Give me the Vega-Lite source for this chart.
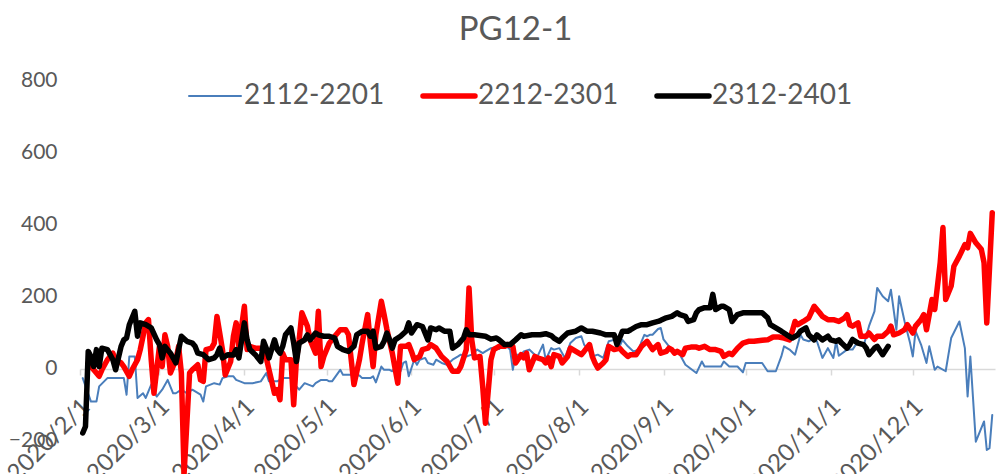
{
"$schema":"https://vega.github.io/schema/vega-lite/v6.json",
"width":915,"height":397,
"autosize":{"type":"none"},
"padding":{"left":80,"top":80,"right":2,"bottom":0},
"background":"white",
"config":{"view":{"stroke":null},"font":"Lato"},
"title":{"text":"PG12-1","fontSize":33,"font":"Lato","fontWeight":"normal","color":"#595959","anchor":"middle","frame":"group","offset":22,"dx":-22},
"data":{"values":[
{"s":"2112-2201","d":"2020-02-02","v":-26},{"s":"2112-2201","d":"2020-02-05","v":-91},{"s":"2112-2201","d":"2020-02-07","v":-91},{"s":"2112-2201","d":"2020-02-08","v":-49},{"s":"2112-2201","d":"2020-02-11","v":-26},{"s":"2112-2201","d":"2020-02-17","v":-26},{"s":"2112-2201","d":"2020-02-18","v":-72},{"s":"2112-2201","d":"2020-02-19","v":34},{"s":"2112-2201","d":"2020-02-21","v":34},{"s":"2112-2201","d":"2020-02-22","v":-81},{"s":"2112-2201","d":"2020-02-24","v":-68},{"s":"2112-2201","d":"2020-02-25","v":-81},{"s":"2112-2201","d":"2020-02-27","v":-44},{"s":"2112-2201","d":"2020-02-29","v":-77},
{"s":"2112-2201","d":"2020-03-02","v":-58},{"s":"2112-2201","d":"2020-03-04","v":-31},{"s":"2112-2201","d":"2020-03-06","v":-68},{"s":"2112-2201","d":"2020-03-07","v":-68},{"s":"2112-2201","d":"2020-03-09","v":-58},{"s":"2112-2201","d":"2020-03-11","v":-68},{"s":"2112-2201","d":"2020-03-13","v":-58},{"s":"2112-2201","d":"2020-03-16","v":-72},{"s":"2112-2201","d":"2020-03-17","v":-91},{"s":"2112-2201","d":"2020-03-18","v":-49},{"s":"2112-2201","d":"2020-03-21","v":-40},{"s":"2112-2201","d":"2020-03-23","v":-44},{"s":"2112-2201","d":"2020-03-24","v":-26},{"s":"2112-2201","d":"2020-03-26","v":-21},{"s":"2112-2201","d":"2020-03-28","v":-21},{"s":"2112-2201","d":"2020-03-29","v":-31},
{"s":"2112-2201","d":"2020-04-01","v":-40},{"s":"2112-2201","d":"2020-04-04","v":-40},{"s":"2112-2201","d":"2020-04-07","v":-35},{"s":"2112-2201","d":"2020-04-09","v":-12},{"s":"2112-2201","d":"2020-04-10","v":-35},{"s":"2112-2201","d":"2020-04-13","v":-35},{"s":"2112-2201","d":"2020-04-15","v":-26},{"s":"2112-2201","d":"2020-04-18","v":-26},{"s":"2112-2201","d":"2020-04-19","v":-40},{"s":"2112-2201","d":"2020-04-21","v":-58},{"s":"2112-2201","d":"2020-04-23","v":-40},{"s":"2112-2201","d":"2020-04-26","v":-49},{"s":"2112-2201","d":"2020-04-27","v":-40},{"s":"2112-2201","d":"2020-04-29","v":-31},
{"s":"2112-2201","d":"2020-05-01","v":-31},{"s":"2112-2201","d":"2020-05-02","v":-35},{"s":"2112-2201","d":"2020-05-03","v":-35},{"s":"2112-2201","d":"2020-05-06","v":-3},{"s":"2112-2201","d":"2020-05-07","v":-17},{"s":"2112-2201","d":"2020-05-10","v":-17},{"s":"2112-2201","d":"2020-05-13","v":-19},{"s":"2112-2201","d":"2020-05-14","v":-26},{"s":"2112-2201","d":"2020-05-17","v":-26},{"s":"2112-2201","d":"2020-05-18","v":-21},{"s":"2112-2201","d":"2020-05-19","v":-38},{"s":"2112-2201","d":"2020-05-21","v":6},{"s":"2112-2201","d":"2020-05-22","v":-3},{"s":"2112-2201","d":"2020-05-24","v":-3},{"s":"2112-2201","d":"2020-05-25","v":-7},{"s":"2112-2201","d":"2020-05-27","v":16},{"s":"2112-2201","d":"2020-05-28","v":-7},{"s":"2112-2201","d":"2020-05-29","v":16},{"s":"2112-2201","d":"2020-05-30","v":20},{"s":"2112-2201","d":"2020-05-31","v":-21},
{"s":"2112-2201","d":"2020-06-02","v":25},{"s":"2112-2201","d":"2020-06-03","v":11},{"s":"2112-2201","d":"2020-06-04","v":25},{"s":"2112-2201","d":"2020-06-06","v":30},{"s":"2112-2201","d":"2020-06-07","v":16},{"s":"2112-2201","d":"2020-06-09","v":11},{"s":"2112-2201","d":"2020-06-10","v":25},{"s":"2112-2201","d":"2020-06-12","v":16},{"s":"2112-2201","d":"2020-06-14","v":11},{"s":"2112-2201","d":"2020-06-16","v":25},{"s":"2112-2201","d":"2020-06-18","v":34},{"s":"2112-2201","d":"2020-06-19","v":39},{"s":"2112-2201","d":"2020-06-21","v":34},{"s":"2112-2201","d":"2020-06-23","v":39},{"s":"2112-2201","d":"2020-06-25","v":53},{"s":"2112-2201","d":"2020-06-27","v":43},{"s":"2112-2201","d":"2020-06-28","v":48},{"s":"2112-2201","d":"2020-06-30","v":57},
{"s":"2112-2201","d":"2020-07-02","v":60},{"s":"2112-2201","d":"2020-07-03","v":55},{"s":"2112-2201","d":"2020-07-05","v":67},{"s":"2112-2201","d":"2020-07-07","v":53},{"s":"2112-2201","d":"2020-07-08","v":-3},{"s":"2112-2201","d":"2020-07-09","v":39},{"s":"2112-2201","d":"2020-07-11","v":39},{"s":"2112-2201","d":"2020-07-12","v":48},{"s":"2112-2201","d":"2020-07-14","v":53},{"s":"2112-2201","d":"2020-07-16","v":39},{"s":"2112-2201","d":"2020-07-17","v":34},{"s":"2112-2201","d":"2020-07-19","v":67},{"s":"2112-2201","d":"2020-07-20","v":25},{"s":"2112-2201","d":"2020-07-22","v":57},{"s":"2112-2201","d":"2020-07-23","v":53},{"s":"2112-2201","d":"2020-07-25","v":57},{"s":"2112-2201","d":"2020-07-27","v":30},{"s":"2112-2201","d":"2020-07-29","v":71},{"s":"2112-2201","d":"2020-07-31","v":85},
{"s":"2112-2201","d":"2020-08-02","v":90},{"s":"2112-2201","d":"2020-08-03","v":67},{"s":"2112-2201","d":"2020-08-05","v":48},{"s":"2112-2201","d":"2020-08-06","v":34},{"s":"2112-2201","d":"2020-08-08","v":39},{"s":"2112-2201","d":"2020-08-10","v":30},{"s":"2112-2201","d":"2020-08-12","v":76},{"s":"2112-2201","d":"2020-08-14","v":80},{"s":"2112-2201","d":"2020-08-16","v":62},{"s":"2112-2201","d":"2020-08-17","v":80},{"s":"2112-2201","d":"2020-08-19","v":62},{"s":"2112-2201","d":"2020-08-21","v":48},{"s":"2112-2201","d":"2020-08-23","v":53},{"s":"2112-2201","d":"2020-08-24","v":76},{"s":"2112-2201","d":"2020-08-25","v":94},{"s":"2112-2201","d":"2020-08-26","v":90},{"s":"2112-2201","d":"2020-08-27","v":94},{"s":"2112-2201","d":"2020-08-28","v":94},{"s":"2112-2201","d":"2020-08-30","v":110},{"s":"2112-2201","d":"2020-08-31","v":113},
{"s":"2112-2201","d":"2020-09-01","v":81},{"s":"2112-2201","d":"2020-09-03","v":62},{"s":"2112-2201","d":"2020-09-07","v":39},{"s":"2112-2201","d":"2020-09-09","v":11},{"s":"2112-2201","d":"2020-09-13","v":-12},{"s":"2112-2201","d":"2020-09-15","v":20},{"s":"2112-2201","d":"2020-09-16","v":6},{"s":"2112-2201","d":"2020-09-22","v":6},{"s":"2112-2201","d":"2020-09-23","v":20},{"s":"2112-2201","d":"2020-09-25","v":6},{"s":"2112-2201","d":"2020-09-28","v":6},{"s":"2112-2201","d":"2020-09-30","v":-10},
{"s":"2112-2201","d":"2020-10-01","v":16},{"s":"2112-2201","d":"2020-10-07","v":16},{"s":"2112-2201","d":"2020-10-09","v":-7},{"s":"2112-2201","d":"2020-10-12","v":-7},{"s":"2112-2201","d":"2020-10-14","v":34},{"s":"2112-2201","d":"2020-10-15","v":62},{"s":"2112-2201","d":"2020-10-17","v":53},{"s":"2112-2201","d":"2020-10-19","v":39},{"s":"2112-2201","d":"2020-10-21","v":94},{"s":"2112-2201","d":"2020-10-22","v":81},{"s":"2112-2201","d":"2020-10-24","v":76},{"s":"2112-2201","d":"2020-10-26","v":85},{"s":"2112-2201","d":"2020-10-27","v":76},{"s":"2112-2201","d":"2020-10-29","v":30},{"s":"2112-2201","d":"2020-10-31","v":57},
{"s":"2112-2201","d":"2020-11-02","v":30},{"s":"2112-2201","d":"2020-11-03","v":76},{"s":"2112-2201","d":"2020-11-04","v":36},{"s":"2112-2201","d":"2020-11-07","v":53},{"s":"2112-2201","d":"2020-11-09","v":53},{"s":"2112-2201","d":"2020-11-11","v":76},{"s":"2112-2201","d":"2020-11-13","v":62},{"s":"2112-2201","d":"2020-11-15","v":118},{"s":"2112-2201","d":"2020-11-17","v":159},{"s":"2112-2201","d":"2020-11-18","v":224},{"s":"2112-2201","d":"2020-11-20","v":201},{"s":"2112-2201","d":"2020-11-22","v":187},{"s":"2112-2201","d":"2020-11-23","v":219},{"s":"2112-2201","d":"2020-11-25","v":108},{"s":"2112-2201","d":"2020-11-26","v":201},{"s":"2112-2201","d":"2020-11-28","v":131},{"s":"2112-2201","d":"2020-11-30","v":71},
{"s":"2112-2201","d":"2020-12-01","v":34},{"s":"2112-2201","d":"2020-12-02","v":104},{"s":"2112-2201","d":"2020-12-04","v":67},{"s":"2112-2201","d":"2020-12-06","v":16},{"s":"2112-2201","d":"2020-12-07","v":62},{"s":"2112-2201","d":"2020-12-09","v":-3},{"s":"2112-2201","d":"2020-12-10","v":6},{"s":"2112-2201","d":"2020-12-13","v":-7},{"s":"2112-2201","d":"2020-12-15","v":85},{"s":"2112-2201","d":"2020-12-18","v":131},{"s":"2112-2201","d":"2020-12-20","v":57},{"s":"2112-2201","d":"2020-12-21","v":-77},{"s":"2112-2201","d":"2020-12-22","v":34},{"s":"2112-2201","d":"2020-12-24","v":-202},{"s":"2112-2201","d":"2020-12-27","v":-146},{"s":"2112-2201","d":"2020-12-28","v":-225},{"s":"2112-2201","d":"2020-12-29","v":-220},{"s":"2112-2201","d":"2020-12-30","v":-128},
{"s":"2212-2301","d":"2020-02-04","v":16},{"s":"2212-2301","d":"2020-02-06","v":-3},{"s":"2212-2301","d":"2020-02-08","v":-21},{"s":"2212-2301","d":"2020-02-09","v":-3},{"s":"2212-2301","d":"2020-02-11","v":25},{"s":"2212-2301","d":"2020-02-13","v":43},{"s":"2212-2301","d":"2020-02-14","v":25},{"s":"2212-2301","d":"2020-02-16","v":16},{"s":"2212-2301","d":"2020-02-17","v":6},{"s":"2212-2301","d":"2020-02-19","v":-21},{"s":"2212-2301","d":"2020-02-20","v":-3},{"s":"2212-2301","d":"2020-02-22","v":25},{"s":"2212-2301","d":"2020-02-23","v":53},{"s":"2212-2301","d":"2020-02-25","v":127},{"s":"2212-2301","d":"2020-02-26","v":136},{"s":"2212-2301","d":"2020-02-27","v":25},{"s":"2212-2301","d":"2020-02-28","v":-68},
{"s":"2212-2301","d":"2020-03-01","v":62},{"s":"2212-2301","d":"2020-03-02","v":6},{"s":"2212-2301","d":"2020-03-03","v":94},{"s":"2212-2301","d":"2020-03-04","v":62},{"s":"2212-2301","d":"2020-03-05","v":-12},{"s":"2212-2301","d":"2020-03-07","v":25},{"s":"2212-2301","d":"2020-03-08","v":62},{"s":"2212-2301","d":"2020-03-09","v":-12},{"s":"2212-2301","d":"2020-03-10","v":-290},{"s":"2212-2301","d":"2020-03-12","v":-12},{"s":"2212-2301","d":"2020-03-13","v":-3},{"s":"2212-2301","d":"2020-03-15","v":11},{"s":"2212-2301","d":"2020-03-16","v":-31},{"s":"2212-2301","d":"2020-03-17","v":-35},{"s":"2212-2301","d":"2020-03-18","v":53},{"s":"2212-2301","d":"2020-03-20","v":57},{"s":"2212-2301","d":"2020-03-21","v":71},{"s":"2212-2301","d":"2020-03-22","v":145},{"s":"2212-2301","d":"2020-03-24","v":53},{"s":"2212-2301","d":"2020-03-25","v":-17},{"s":"2212-2301","d":"2020-03-27","v":20},{"s":"2212-2301","d":"2020-03-28","v":90},{"s":"2212-2301","d":"2020-03-29","v":127},{"s":"2212-2301","d":"2020-03-30","v":62},
{"s":"2212-2301","d":"2020-04-01","v":173},{"s":"2212-2301","d":"2020-04-02","v":53},{"s":"2212-2301","d":"2020-04-03","v":62},{"s":"2212-2301","d":"2020-04-05","v":57},{"s":"2212-2301","d":"2020-04-07","v":57},{"s":"2212-2301","d":"2020-04-08","v":48},{"s":"2212-2301","d":"2020-04-09","v":30},{"s":"2212-2301","d":"2020-04-10","v":-3},{"s":"2212-2301","d":"2020-04-12","v":-68},{"s":"2212-2301","d":"2020-04-13","v":-58},{"s":"2212-2301","d":"2020-04-14","v":-86},{"s":"2212-2301","d":"2020-04-15","v":43},{"s":"2212-2301","d":"2020-04-16","v":25},{"s":"2212-2301","d":"2020-04-18","v":25},{"s":"2212-2301","d":"2020-04-19","v":-100},{"s":"2212-2301","d":"2020-04-20","v":25},{"s":"2212-2301","d":"2020-04-21","v":80},{"s":"2212-2301","d":"2020-04-22","v":155},{"s":"2212-2301","d":"2020-04-24","v":118},{"s":"2212-2301","d":"2020-04-25","v":80},{"s":"2212-2301","d":"2020-04-27","v":43},{"s":"2212-2301","d":"2020-04-28","v":159},{"s":"2212-2301","d":"2020-04-29","v":6},{"s":"2212-2301","d":"2020-04-30","v":34},
{"s":"2212-2301","d":"2020-05-02","v":71},{"s":"2212-2301","d":"2020-05-04","v":90},{"s":"2212-2301","d":"2020-05-06","v":108},{"s":"2212-2301","d":"2020-05-08","v":108},{"s":"2212-2301","d":"2020-05-09","v":94},{"s":"2212-2301","d":"2020-05-11","v":-44},{"s":"2212-2301","d":"2020-05-13","v":25},{"s":"2212-2301","d":"2020-05-14","v":71},{"s":"2212-2301","d":"2020-05-16","v":150},{"s":"2212-2301","d":"2020-05-17","v":71},{"s":"2212-2301","d":"2020-05-18","v":6},{"s":"2212-2301","d":"2020-05-19","v":94},{"s":"2212-2301","d":"2020-05-21","v":187},{"s":"2212-2301","d":"2020-05-22","v":150},{"s":"2212-2301","d":"2020-05-23","v":110},{"s":"2212-2301","d":"2020-05-25","v":43},{"s":"2212-2301","d":"2020-05-27","v":-40},{"s":"2212-2301","d":"2020-05-28","v":62},{"s":"2212-2301","d":"2020-05-30","v":62},{"s":"2212-2301","d":"2020-05-31","v":67},
{"s":"2212-2301","d":"2020-06-01","v":48},{"s":"2212-2301","d":"2020-06-02","v":25},{"s":"2212-2301","d":"2020-06-04","v":34},{"s":"2212-2301","d":"2020-06-05","v":53},{"s":"2212-2301","d":"2020-06-07","v":57},{"s":"2212-2301","d":"2020-06-08","v":67},{"s":"2212-2301","d":"2020-06-10","v":57},{"s":"2212-2301","d":"2020-06-12","v":34},{"s":"2212-2301","d":"2020-06-14","v":20},{"s":"2212-2301","d":"2020-06-16","v":-7},{"s":"2212-2301","d":"2020-06-18","v":-7},{"s":"2212-2301","d":"2020-06-19","v":6},{"s":"2212-2301","d":"2020-06-21","v":53},{"s":"2212-2301","d":"2020-06-22","v":224},{"s":"2212-2301","d":"2020-06-23","v":80},{"s":"2212-2301","d":"2020-06-24","v":30},{"s":"2212-2301","d":"2020-06-26","v":34},{"s":"2212-2301","d":"2020-06-27","v":-49},{"s":"2212-2301","d":"2020-06-28","v":-151},{"s":"2212-2301","d":"2020-06-30","v":25},
{"s":"2212-2301","d":"2020-07-01","v":53},{"s":"2212-2301","d":"2020-07-03","v":62},{"s":"2212-2301","d":"2020-07-05","v":62},{"s":"2212-2301","d":"2020-07-06","v":67},{"s":"2212-2301","d":"2020-07-08","v":62},{"s":"2212-2301","d":"2020-07-09","v":16},{"s":"2212-2301","d":"2020-07-11","v":39},{"s":"2212-2301","d":"2020-07-12","v":30},{"s":"2212-2301","d":"2020-07-13","v":43},{"s":"2212-2301","d":"2020-07-14","v":-3},{"s":"2212-2301","d":"2020-07-16","v":34},{"s":"2212-2301","d":"2020-07-17","v":30},{"s":"2212-2301","d":"2020-07-19","v":25},{"s":"2212-2301","d":"2020-07-20","v":16},{"s":"2212-2301","d":"2020-07-21","v":30},{"s":"2212-2301","d":"2020-07-22","v":6},{"s":"2212-2301","d":"2020-07-23","v":39},{"s":"2212-2301","d":"2020-07-25","v":34},{"s":"2212-2301","d":"2020-07-26","v":16},{"s":"2212-2301","d":"2020-07-28","v":34},{"s":"2212-2301","d":"2020-07-29","v":57},{"s":"2212-2301","d":"2020-07-31","v":48},
{"s":"2212-2301","d":"2020-08-02","v":39},{"s":"2212-2301","d":"2020-08-03","v":48},{"s":"2212-2301","d":"2020-08-05","v":67},{"s":"2212-2301","d":"2020-08-06","v":34},{"s":"2212-2301","d":"2020-08-07","v":16},{"s":"2212-2301","d":"2020-08-08","v":2},{"s":"2212-2301","d":"2020-08-10","v":16},{"s":"2212-2301","d":"2020-08-11","v":25},{"s":"2212-2301","d":"2020-08-12","v":62},{"s":"2212-2301","d":"2020-08-14","v":53},{"s":"2212-2301","d":"2020-08-16","v":57},{"s":"2212-2301","d":"2020-08-17","v":48},{"s":"2212-2301","d":"2020-08-19","v":34},{"s":"2212-2301","d":"2020-08-20","v":39},{"s":"2212-2301","d":"2020-08-22","v":39},{"s":"2212-2301","d":"2020-08-24","v":62},{"s":"2212-2301","d":"2020-08-26","v":76},{"s":"2212-2301","d":"2020-08-28","v":53},{"s":"2212-2301","d":"2020-08-30","v":67},{"s":"2212-2301","d":"2020-08-31","v":43},
{"s":"2212-2301","d":"2020-09-02","v":48},{"s":"2212-2301","d":"2020-09-03","v":57},{"s":"2212-2301","d":"2020-09-04","v":53},{"s":"2212-2301","d":"2020-09-05","v":43},{"s":"2212-2301","d":"2020-09-06","v":48},{"s":"2212-2301","d":"2020-09-08","v":39},{"s":"2212-2301","d":"2020-09-09","v":57},{"s":"2212-2301","d":"2020-09-11","v":60},{"s":"2212-2301","d":"2020-09-13","v":60},{"s":"2212-2301","d":"2020-09-14","v":57},{"s":"2212-2301","d":"2020-09-16","v":62},{"s":"2212-2301","d":"2020-09-18","v":53},{"s":"2212-2301","d":"2020-09-20","v":53},{"s":"2212-2301","d":"2020-09-22","v":48},{"s":"2212-2301","d":"2020-09-23","v":34},{"s":"2212-2301","d":"2020-09-25","v":43},{"s":"2212-2301","d":"2020-09-26","v":39},{"s":"2212-2301","d":"2020-09-28","v":57},{"s":"2212-2301","d":"2020-09-30","v":71},
{"s":"2212-2301","d":"2020-10-02","v":76},{"s":"2212-2301","d":"2020-10-04","v":76},{"s":"2212-2301","d":"2020-10-07","v":79},{"s":"2212-2301","d":"2020-10-09","v":80},{"s":"2212-2301","d":"2020-10-11","v":88},{"s":"2212-2301","d":"2020-10-13","v":88},{"s":"2212-2301","d":"2020-10-15","v":85},{"s":"2212-2301","d":"2020-10-17","v":80},{"s":"2212-2301","d":"2020-10-18","v":104},{"s":"2212-2301","d":"2020-10-19","v":131},{"s":"2212-2301","d":"2020-10-20","v":122},{"s":"2212-2301","d":"2020-10-22","v":131},{"s":"2212-2301","d":"2020-10-24","v":141},{"s":"2212-2301","d":"2020-10-26","v":173},{"s":"2212-2301","d":"2020-10-28","v":155},{"s":"2212-2301","d":"2020-10-29","v":145},{"s":"2212-2301","d":"2020-10-31","v":136},
{"s":"2212-2301","d":"2020-11-02","v":136},{"s":"2212-2301","d":"2020-11-04","v":131},{"s":"2212-2301","d":"2020-11-06","v":140},{"s":"2212-2301","d":"2020-11-07","v":150},{"s":"2212-2301","d":"2020-11-08","v":122},{"s":"2212-2301","d":"2020-11-09","v":118},{"s":"2212-2301","d":"2020-11-11","v":127},{"s":"2212-2301","d":"2020-11-12","v":90},{"s":"2212-2301","d":"2020-11-14","v":90},{"s":"2212-2301","d":"2020-11-15","v":99},{"s":"2212-2301","d":"2020-11-17","v":81},{"s":"2212-2301","d":"2020-11-18","v":90},{"s":"2212-2301","d":"2020-11-20","v":90},{"s":"2212-2301","d":"2020-11-22","v":104},{"s":"2212-2301","d":"2020-11-23","v":118},{"s":"2212-2301","d":"2020-11-24","v":94},{"s":"2212-2301","d":"2020-11-26","v":99},{"s":"2212-2301","d":"2020-11-28","v":108},{"s":"2212-2301","d":"2020-11-29","v":122},
{"s":"2212-2301","d":"2020-12-01","v":99},{"s":"2212-2301","d":"2020-12-02","v":118},{"s":"2212-2301","d":"2020-12-04","v":136},{"s":"2212-2301","d":"2020-12-05","v":150},{"s":"2212-2301","d":"2020-12-06","v":108},{"s":"2212-2301","d":"2020-12-08","v":192},{"s":"2212-2301","d":"2020-12-09","v":164},{"s":"2212-2301","d":"2020-12-11","v":294},{"s":"2212-2301","d":"2020-12-12","v":391},{"s":"2212-2301","d":"2020-12-13","v":192},{"s":"2212-2301","d":"2020-12-15","v":229},{"s":"2212-2301","d":"2020-12-16","v":284},{"s":"2212-2301","d":"2020-12-18","v":312},{"s":"2212-2301","d":"2020-12-20","v":344},{"s":"2212-2301","d":"2020-12-21","v":335},{"s":"2212-2301","d":"2020-12-22","v":375},{"s":"2212-2301","d":"2020-12-24","v":349},{"s":"2212-2301","d":"2020-12-26","v":331},{"s":"2212-2301","d":"2020-12-27","v":294},{"s":"2212-2301","d":"2020-12-28","v":127},{"s":"2212-2301","d":"2020-12-30","v":432},
{"s":"2312-2401","d":"2020-02-02","v":-178},{"s":"2312-2401","d":"2020-02-03","v":-160},{"s":"2312-2401","d":"2020-02-04","v":48},{"s":"2312-2401","d":"2020-02-05","v":34},{"s":"2312-2401","d":"2020-02-06","v":6},{"s":"2312-2401","d":"2020-02-07","v":53},{"s":"2312-2401","d":"2020-02-08","v":6},{"s":"2312-2401","d":"2020-02-09","v":57},{"s":"2312-2401","d":"2020-02-11","v":53},{"s":"2312-2401","d":"2020-02-13","v":25},{"s":"2312-2401","d":"2020-02-14","v":-3},{"s":"2312-2401","d":"2020-02-16","v":62},{"s":"2312-2401","d":"2020-02-17","v":80},{"s":"2312-2401","d":"2020-02-18","v":85},{"s":"2312-2401","d":"2020-02-19","v":122},{"s":"2312-2401","d":"2020-02-21","v":159},{"s":"2312-2401","d":"2020-02-22","v":90},{"s":"2312-2401","d":"2020-02-23","v":127},{"s":"2312-2401","d":"2020-02-25","v":122},{"s":"2312-2401","d":"2020-02-27","v":113},{"s":"2312-2401","d":"2020-02-29","v":80},
{"s":"2312-2401","d":"2020-03-01","v":67},{"s":"2312-2401","d":"2020-03-02","v":30},{"s":"2312-2401","d":"2020-03-03","v":62},{"s":"2312-2401","d":"2020-03-05","v":43},{"s":"2312-2401","d":"2020-03-07","v":16},{"s":"2312-2401","d":"2020-03-08","v":53},{"s":"2312-2401","d":"2020-03-09","v":90},{"s":"2312-2401","d":"2020-03-11","v":76},{"s":"2312-2401","d":"2020-03-13","v":71},{"s":"2312-2401","d":"2020-03-14","v":62},{"s":"2312-2401","d":"2020-03-15","v":43},{"s":"2312-2401","d":"2020-03-17","v":39},{"s":"2312-2401","d":"2020-03-19","v":25},{"s":"2312-2401","d":"2020-03-21","v":30},{"s":"2312-2401","d":"2020-03-22","v":39},{"s":"2312-2401","d":"2020-03-23","v":57},{"s":"2312-2401","d":"2020-03-24","v":30},{"s":"2312-2401","d":"2020-03-26","v":39},{"s":"2312-2401","d":"2020-03-28","v":38},{"s":"2312-2401","d":"2020-03-29","v":53},{"s":"2312-2401","d":"2020-03-30","v":30},
{"s":"2312-2401","d":"2020-04-01","v":127},{"s":"2312-2401","d":"2020-04-02","v":80},{"s":"2312-2401","d":"2020-04-03","v":53},{"s":"2312-2401","d":"2020-04-05","v":39},{"s":"2312-2401","d":"2020-04-07","v":20},{"s":"2312-2401","d":"2020-04-08","v":76},{"s":"2312-2401","d":"2020-04-09","v":57},{"s":"2312-2401","d":"2020-04-10","v":30},{"s":"2312-2401","d":"2020-04-12","v":80},{"s":"2312-2401","d":"2020-04-13","v":53},{"s":"2312-2401","d":"2020-04-14","v":43},{"s":"2312-2401","d":"2020-04-15","v":62},{"s":"2312-2401","d":"2020-04-16","v":94},{"s":"2312-2401","d":"2020-04-18","v":113},{"s":"2312-2401","d":"2020-04-19","v":71},{"s":"2312-2401","d":"2020-04-20","v":20},{"s":"2312-2401","d":"2020-04-21","v":71},{"s":"2312-2401","d":"2020-04-23","v":80},{"s":"2312-2401","d":"2020-04-24","v":94},{"s":"2312-2401","d":"2020-04-25","v":80},{"s":"2312-2401","d":"2020-04-27","v":99},{"s":"2312-2401","d":"2020-04-28","v":94},{"s":"2312-2401","d":"2020-04-30","v":90},
{"s":"2312-2401","d":"2020-05-02","v":90},{"s":"2312-2401","d":"2020-05-04","v":85},{"s":"2312-2401","d":"2020-05-05","v":62},{"s":"2312-2401","d":"2020-05-07","v":53},{"s":"2312-2401","d":"2020-05-09","v":48},{"s":"2312-2401","d":"2020-05-11","v":62},{"s":"2312-2401","d":"2020-05-12","v":94},{"s":"2312-2401","d":"2020-05-14","v":104},{"s":"2312-2401","d":"2020-05-16","v":104},{"s":"2312-2401","d":"2020-05-17","v":90},{"s":"2312-2401","d":"2020-05-18","v":104},{"s":"2312-2401","d":"2020-05-19","v":57},{"s":"2312-2401","d":"2020-05-21","v":62},{"s":"2312-2401","d":"2020-05-22","v":76},{"s":"2312-2401","d":"2020-05-23","v":99},{"s":"2312-2401","d":"2020-05-24","v":80},{"s":"2312-2401","d":"2020-05-25","v":57},{"s":"2312-2401","d":"2020-05-26","v":80},{"s":"2312-2401","d":"2020-05-28","v":90},{"s":"2312-2401","d":"2020-05-30","v":104},{"s":"2312-2401","d":"2020-05-31","v":127},
{"s":"2312-2401","d":"2020-06-01","v":99},{"s":"2312-2401","d":"2020-06-03","v":122},{"s":"2312-2401","d":"2020-06-05","v":117},{"s":"2312-2401","d":"2020-06-07","v":80},{"s":"2312-2401","d":"2020-06-08","v":113},{"s":"2312-2401","d":"2020-06-10","v":108},{"s":"2312-2401","d":"2020-06-11","v":113},{"s":"2312-2401","d":"2020-06-13","v":104},{"s":"2312-2401","d":"2020-06-15","v":104},{"s":"2312-2401","d":"2020-06-16","v":57},{"s":"2312-2401","d":"2020-06-18","v":67},{"s":"2312-2401","d":"2020-06-20","v":85},{"s":"2312-2401","d":"2020-06-21","v":108},{"s":"2312-2401","d":"2020-06-22","v":94},{"s":"2312-2401","d":"2020-06-24","v":94},{"s":"2312-2401","d":"2020-06-26","v":92},{"s":"2312-2401","d":"2020-06-28","v":90},{"s":"2312-2401","d":"2020-06-30","v":82},
{"s":"2312-2401","d":"2020-07-02","v":85},{"s":"2312-2401","d":"2020-07-03","v":80},{"s":"2312-2401","d":"2020-07-05","v":67},{"s":"2312-2401","d":"2020-07-07","v":67},{"s":"2312-2401","d":"2020-07-09","v":80},{"s":"2312-2401","d":"2020-07-11","v":94},{"s":"2312-2401","d":"2020-07-12","v":90},{"s":"2312-2401","d":"2020-07-15","v":94},{"s":"2312-2401","d":"2020-07-17","v":94},{"s":"2312-2401","d":"2020-07-18","v":94},{"s":"2312-2401","d":"2020-07-20","v":97},{"s":"2312-2401","d":"2020-07-22","v":92},{"s":"2312-2401","d":"2020-07-23","v":85},{"s":"2312-2401","d":"2020-07-25","v":76},{"s":"2312-2401","d":"2020-07-26","v":85},{"s":"2312-2401","d":"2020-07-28","v":99},{"s":"2312-2401","d":"2020-07-31","v":104},
{"s":"2312-2401","d":"2020-08-02","v":113},{"s":"2312-2401","d":"2020-08-04","v":104},{"s":"2312-2401","d":"2020-08-06","v":104},{"s":"2312-2401","d":"2020-08-09","v":99},{"s":"2312-2401","d":"2020-08-11","v":94},{"s":"2312-2401","d":"2020-08-14","v":94},{"s":"2312-2401","d":"2020-08-15","v":67},{"s":"2312-2401","d":"2020-08-17","v":104},{"s":"2312-2401","d":"2020-08-19","v":104},{"s":"2312-2401","d":"2020-08-20","v":108},{"s":"2312-2401","d":"2020-08-22","v":117},{"s":"2312-2401","d":"2020-08-24","v":122},{"s":"2312-2401","d":"2020-08-26","v":122},{"s":"2312-2401","d":"2020-08-28","v":127},{"s":"2312-2401","d":"2020-08-30","v":131},{"s":"2312-2401","d":"2020-08-31","v":134},
{"s":"2312-2401","d":"2020-09-02","v":141},{"s":"2312-2401","d":"2020-09-04","v":145},{"s":"2312-2401","d":"2020-09-06","v":155},{"s":"2312-2401","d":"2020-09-07","v":150},{"s":"2312-2401","d":"2020-09-09","v":145},{"s":"2312-2401","d":"2020-09-10","v":131},{"s":"2312-2401","d":"2020-09-12","v":136},{"s":"2312-2401","d":"2020-09-13","v":155},{"s":"2312-2401","d":"2020-09-14","v":164},{"s":"2312-2401","d":"2020-09-16","v":169},{"s":"2312-2401","d":"2020-09-18","v":169},{"s":"2312-2401","d":"2020-09-19","v":206},{"s":"2312-2401","d":"2020-09-20","v":164},{"s":"2312-2401","d":"2020-09-22","v":173},{"s":"2312-2401","d":"2020-09-23","v":173},{"s":"2312-2401","d":"2020-09-25","v":164},{"s":"2312-2401","d":"2020-09-26","v":131},{"s":"2312-2401","d":"2020-09-28","v":150},{"s":"2312-2401","d":"2020-09-30","v":155},
{"s":"2312-2401","d":"2020-10-02","v":155},{"s":"2312-2401","d":"2020-10-04","v":155},{"s":"2312-2401","d":"2020-10-07","v":155},{"s":"2312-2401","d":"2020-10-09","v":141},{"s":"2312-2401","d":"2020-10-10","v":122},{"s":"2312-2401","d":"2020-10-12","v":113},{"s":"2312-2401","d":"2020-10-14","v":104},{"s":"2312-2401","d":"2020-10-16","v":94},{"s":"2312-2401","d":"2020-10-18","v":85},{"s":"2312-2401","d":"2020-10-20","v":94},{"s":"2312-2401","d":"2020-10-21","v":104},{"s":"2312-2401","d":"2020-10-23","v":113},{"s":"2312-2401","d":"2020-10-24","v":94},{"s":"2312-2401","d":"2020-10-26","v":80},{"s":"2312-2401","d":"2020-10-27","v":94},{"s":"2312-2401","d":"2020-10-29","v":80},{"s":"2312-2401","d":"2020-10-31","v":90},
{"s":"2312-2401","d":"2020-11-01","v":80},{"s":"2312-2401","d":"2020-11-03","v":76},{"s":"2312-2401","d":"2020-11-04","v":80},{"s":"2312-2401","d":"2020-11-05","v":71},{"s":"2312-2401","d":"2020-11-07","v":57},{"s":"2312-2401","d":"2020-11-08","v":67},{"s":"2312-2401","d":"2020-11-09","v":81},{"s":"2312-2401","d":"2020-11-11","v":71},{"s":"2312-2401","d":"2020-11-13","v":67},{"s":"2312-2401","d":"2020-11-14","v":57},{"s":"2312-2401","d":"2020-11-15","v":39},{"s":"2312-2401","d":"2020-11-17","v":57},{"s":"2312-2401","d":"2020-11-18","v":62},{"s":"2312-2401","d":"2020-11-20","v":39},{"s":"2312-2401","d":"2020-11-22","v":62}
]},
"mark":{"type":"line","strokeJoin":"round","strokeCap":"round","clip":true},
"encoding":{
"x":{"field":"d","type":"temporal","scale":{"type":"utc","domain":[{"year":2020,"month":2,"date":1,"utc":true},{"year":2020,"month":12,"date":31,"utc":true}],"nice":false},
"axis":{"title":null,"format":"%Y/%-m/%-d","tickCount":{"interval":"month","step":1},"labelAngle":-45,"labelAlign":"right","labelBaseline":"middle","labelFontSize":24,"labelFont":"Lato","labelColor":"#595959","labelPadding":28,"labelOffset":6,"offset":-108,"domainColor":"#D9D9D9","domainWidth":1.5,"tickColor":"#D9D9D9","tickSize":6,"tickWidth":1.5,"grid":false,"labelOverlap":false,"labelFlush":false,"labelBound":false}},
"y":{"field":"v","type":"quantitative","scale":{"domain":[-300,800],"nice":false,"zero":false},
"axis":{"title":null,"values":[-200,0,200,400,600,800],"domain":false,"ticks":false,"grid":false,"labelFontSize":21,"labelFont":"Lato","labelColor":"#595959","labelPadding":23,"labelOverlap":false}},
"color":{"field":"s","type":"nominal","scale":{"domain":["2112-2201","2212-2301","2312-2401"],"range":["#4A7EBB","#FF0000","#000000"]},
"legend":{"title":null,"orient":"none","legendX":121,"legendY":2,"direction":"horizontal","symbolType":"stroke","symbolSize":2700,"labelFontSize":28,"labelFont":"Lato","labelColor":"#595959","columnPadding":27,"labelOffset":15,"labelLimit":0,"padding":0,
"encode":{"symbols":{"update":{"strokeWidth":{"signal":"datum.value === '2112-2201' ? 2 : 5.5"},"strokeCap":{"value":"round"}}}}}},
"strokeWidth":{"condition":{"test":"datum.s === '2112-2201'","value":2},"value":5.5}
}
}
